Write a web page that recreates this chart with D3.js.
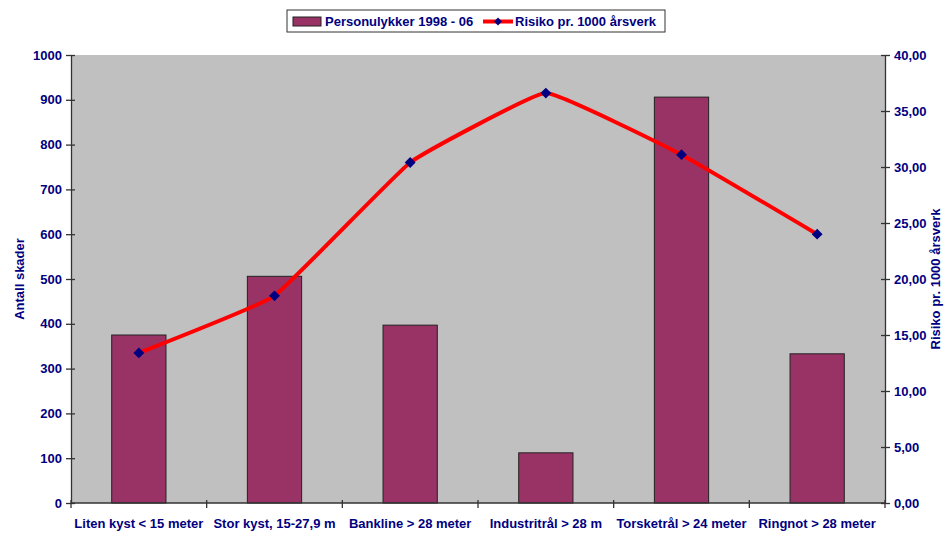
<!DOCTYPE html>
<html>
<head>
<meta charset="utf-8">
<script src="https://cdn.jsdelivr.net/npm/d3@7"></script>
<style>
	body { margin: 0; background: #fff; }
	text { font-family: 'Liberation Sans', Arial, sans-serif; font-weight: bold; fill: #000080; }
</style>
</head>
<body>
<div id="chart"></div>
<script>
// data
const categories = ['Liten kyst < 15 meter', 'Stor kyst, 15-27,9 m', 'Bankline > 28 meter',
	'Industritrål > 28 m', 'Torsketrål > 24 meter', 'Ringnot > 28 meter'];
const injuries = [375, 506, 397, 112, 906, 333];
const risk = [13.4, 18.5, 30.4, 36.6, 31.1, 24.0];
const leftTicks = [0, 100, 200, 300, 400, 500, 600, 700, 800, 900, 1000];
const rightTicks = [0, 5, 10, 15, 20, 25, 30, 35, 40];

const W = 944, H = 533;
const m = {left: 71, right: 59, top: 55, bottom: 30};
const pw = W - m.left - m.right, ph = H - m.top - m.bottom;
const fs = '13px';

const svg = d3.select('#chart').append('svg')
	.attr('width', W)
	.attr('height', H);

const x = d3.scaleBand().domain(categories).range([0, pw]);
const yL = d3.scaleLinear().domain([0, 1000]).range([ph, 0]);
const yR = d3.scaleLinear().domain([0, 40]).range([ph, 0]);

const g = svg.append('g').attr('transform', `translate(${m.left},${m.top})`);

g.append('rect')
	.attr('width', pw)
	.attr('height', ph)
	.style('fill', '#c0c0c0');

// bars, excel gap width ~150%
const bw = x.bandwidth() * 0.4;
g.selectAll('.bar')
	.data(categories)
	.enter().append('rect')
	.attr('class', 'bar')
	.attr('x', (d) => x(d) + (x.bandwidth() - bw) / 2)
	.attr('y', (d, i) => yL(injuries[i]))
	.attr('width', bw)
	.attr('height', (d, i) => ph - yL(injuries[i]))
	.style('fill', '#993366')
	.style('stroke', '#222')
	.style('stroke-width', 1);

// axes
const styleAxis = function(sel) {
	sel.select('.domain').style('stroke', '#333').style('stroke-width', 1.3);
	sel.selectAll('.tick line').style('stroke', '#333').style('stroke-width', 1.3);
	sel.selectAll('text')
		.style('font-size', fs)
		.style('font-family', "'Liberation Sans', Arial, sans-serif")
		.style('font-weight', 'bold')
		.style('fill', '#000080');
};

g.append('g')
	.call(d3.axisLeft(yL).tickValues(leftTicks).tickSize(5).tickSizeOuter(0).tickPadding(4)
		.tickFormat(d3.format('d')))
	.call(styleAxis)
	.selectAll('.tick line').attr('x1', 4);

g.append('g')
	.attr('transform', `translate(${pw},0)`)
	.call(d3.axisRight(yR).tickValues(rightTicks).tickSize(5).tickSizeOuter(0).tickPadding(4)
		.tickFormat((d) => d3.format('.2f')(d).replace('.', ',')))
	.call(styleAxis)
	.selectAll('.tick line').attr('x1', -4);

// category ticks sit between the bands
const xAxis = g.append('g').attr('transform', `translate(0,${ph})`);
xAxis.append('line')
	.attr('x1', 0).attr('x2', pw)
	.style('stroke', '#333').style('stroke-width', 1.3);
const bounds = categories.map((d) => x(d)).concat([pw]);
xAxis.selectAll('.xtick')
	.data(bounds)
	.enter().append('line')
	.attr('x1', (d) => d).attr('x2', (d) => d)
	.attr('y1', -3).attr('y2', 5)
	.style('stroke', '#333').style('stroke-width', 1.3);
xAxis.selectAll('.xlab')
	.data(categories)
	.enter().append('text')
	.attr('x', (d) => x(d) + x.bandwidth() / 2)
	.attr('y', 25)
	.attr('text-anchor', 'middle')
	.style('font-size', fs)
	.text((d) => d);

// risk line, lightly smoothed like excel
const line = d3.line()
	.x((d, i) => x(categories[i]) + x.bandwidth() / 2)
	.y((d) => yR(d))
	.curve(d3.curveCardinal.tension(0.72));
g.append('path')
	.datum(risk)
	.attr('d', line)
	.style('fill', 'none')
	.style('stroke', '#ff0000')
	.style('stroke-width', 4);

const diamond = d3.symbol().type(d3.symbolDiamond2).size(75);
g.selectAll('.pt')
	.data(risk)
	.enter().append('path')
	.attr('transform', (d, i) => `translate(${x(categories[i]) + x.bandwidth() / 2},${yR(d)})`)
	.attr('d', diamond)
	.style('fill', '#000080');

// axis titles
svg.append('text')
	.attr('transform', `translate(24,${m.top + ph / 2}) rotate(-90)`)
	.attr('text-anchor', 'middle')
	.style('font-size', fs)
	.text('Antall skader');
svg.append('text')
	.attr('transform', `translate(940,${m.top + ph / 2}) rotate(-90)`)
	.attr('text-anchor', 'middle')
	.style('font-size', fs)
	.text('Risiko pr. 1000 årsverk');

// legend
const leg = svg.append('g').attr('transform', 'translate(287,10)');
leg.append('rect')
	.attr('width', 378).attr('height', 22)
	.style('fill', '#fff').style('stroke', '#333').style('stroke-width', 1);
leg.append('rect')
	.attr('x', 6).attr('y', 7).attr('width', 28).attr('height', 9)
	.style('fill', '#993366').style('stroke', '#222');
leg.append('text')
	.attr('x', 38).attr('y', 16)
	.style('font-size', fs)
	.text('Personulykker 1998 - 06');
leg.append('line')
	.attr('x1', 196).attr('x2', 226).attr('y1', 11.5).attr('y2', 11.5)
	.style('stroke', '#ff0000').style('stroke-width', 4);
leg.append('path')
	.attr('transform', 'translate(211,11.5)')
	.attr('d', d3.symbol().type(d3.symbolDiamond2).size(40))
	.style('fill', '#000080');
leg.append('text')
	.attr('x', 228).attr('y', 16)
	.style('font-size', fs)
	.text('Risiko pr. 1000 årsverk');
</script>
</body>
</html>
